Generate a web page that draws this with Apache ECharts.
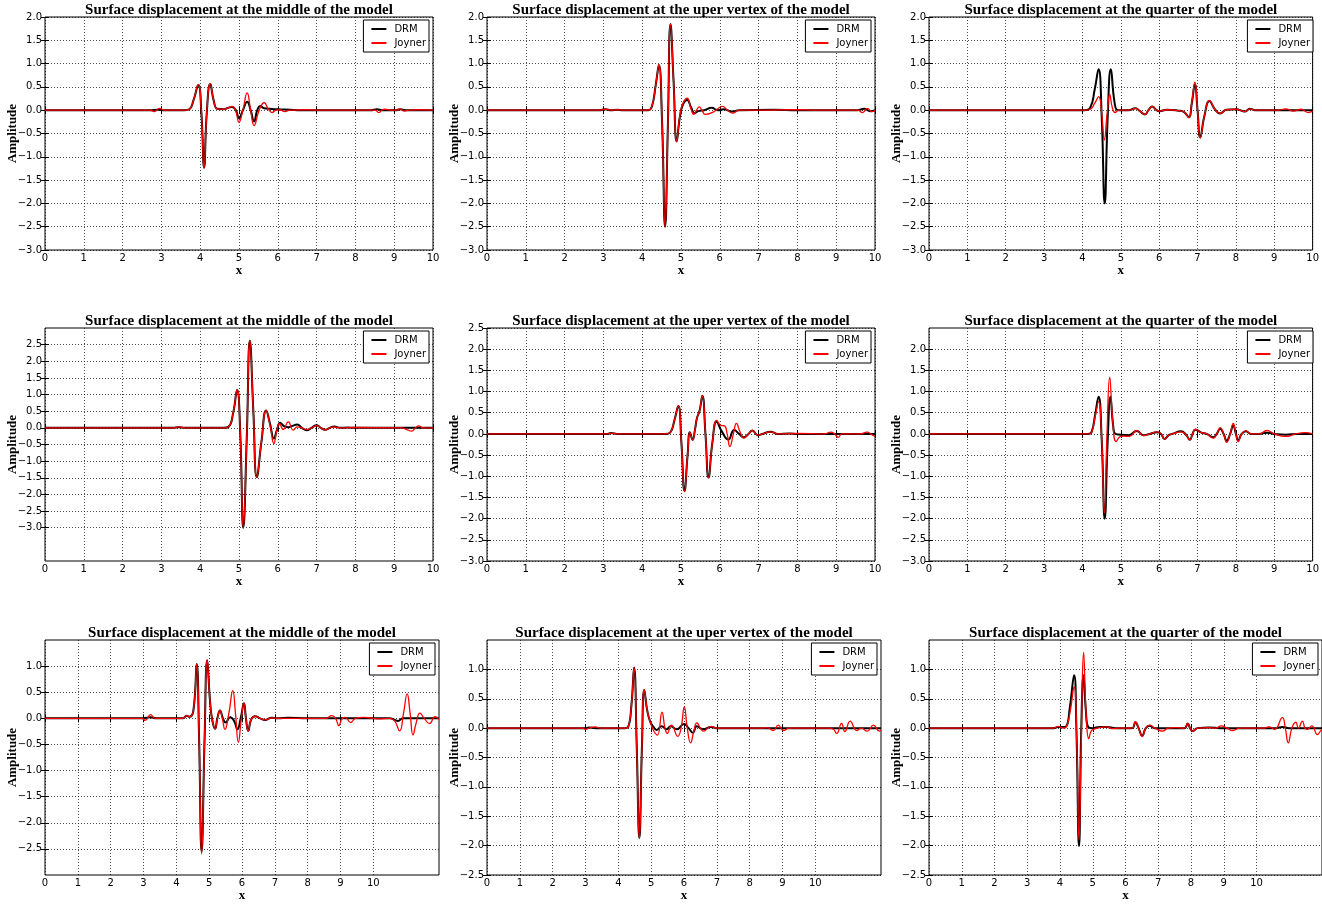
<!DOCTYPE html>
<html>
<head>
<meta charset="utf-8">
<script src="https://cdn.jsdelivr.net/npm/echarts@6/dist/echarts.min.js"></script>
<style>
html, body { margin: 0; padding: 0; background: #fff; }
#chart { width: 1322px; height: 904px; }
</style>
</head>
<body>
<div id="chart"></div>
<script>
// ---- Panel titles and tick values ----
const panelTitles = [
  'Surface displacement at the middle of the model',
  'Surface displacement at the uper vertex of the model',
  'Surface displacement at the quarter of the model'
];
const seriesNames = ['DRM', 'Joyner'];
const xTicks = [0, 1, 2, 3, 4, 5, 6, 7, 8, 9, 10];
const yTicksRow1 = [-3, -2.5, -2, -1.5, -1, -0.5, 0, 0.5, 1, 1.5, 2];
const yTicksRow2Left = [-3, -2.5, -2, -1.5, -1, -0.5, 0, 0.5, 1, 1.5, 2, 2.5];
const yTicksRow2Mid = [-3, -2.5, -2, -1.5, -1, -0.5, 0, 0.5, 1, 1.5, 2, 2.5];
const yTicksRow2Right = [-3, -2.5, -2, -1.5, -1, -0.5, 0, 0.5, 1, 1.5, 2];
const yTicksRow3 = [-2.5, -2, -1.5, -1, -0.5, 0, 0.5, 1];

// ---- Surface displacement records: [x, amplitude] ----
// Row 1
const row1MiddleDrm = [[0,0],[2.7,0],[2.9,0.01],[3.1,0],[3.6,0],[3.72,0.02],[3.83,0.22],[3.95,0.54],[4.03,-0.05],[4.10,-1.23],[4.17,-0.05],[4.26,0.56],[4.35,0.2],[4.44,0.03],[4.6,0.02],[4.72,0.05],[4.82,0.07],[4.92,0.0],[5.0,-0.17],[5.1,0.0],[5.21,0.18],[5.3,0.0],[5.39,-0.24],[5.47,0.0],[5.55,0.09],[5.65,0.04],[5.8,0.03],[6.0,0.02],[6.3,0.01],[6.6,0],[8.4,0],[8.55,0.02],[8.7,0],[9.05,0],[9.15,0.02],[9.3,0],[10,0]];
const row1MiddleJoyner = [[0,0],[2.7,0],[2.82,-0.03],[2.95,0.04],[3.07,0],[3.6,0],[3.72,0.02],[3.83,0.22],[3.95,0.55],[4.03,-0.05],[4.10,-1.25],[4.17,-0.05],[4.26,0.57],[4.35,0.2],[4.44,0.03],[4.6,0.02],[4.72,0.05],[4.82,0.08],[4.91,0.0],[5.0,-0.26],[5.1,0.0],[5.21,0.37],[5.3,0.0],[5.39,-0.33],[5.52,0.0],[5.65,0.16],[5.76,0.02],[5.85,-0.05],[5.95,0.0],[6.05,0.01],[6.18,-0.03],[6.32,0.0],[6.8,0.01],[7.0,0],[8.5,0],[8.6,-0.05],[8.68,0],[8.76,0.02],[8.9,0],[9.05,0],[9.15,0.03],[9.25,-0.02],[9.38,0],[9.7,0.01],[10,0]];
const row1VertexDrm = [[0,0],[2.9,0],[3.05,0.02],[3.2,0],[3.35,0.01],[3.5,0],[4.15,0],[4.25,0.08],[4.35,0.55],[4.43,0.97],[4.51,-0.2],[4.59,-2.5],[4.66,-0.4],[4.73,1.85],[4.81,0.6],[4.89,-0.67],[4.97,-0.15],[5.05,0.12],[5.16,0.22],[5.26,0.06],[5.35,-0.06],[5.45,-0.02],[5.6,0.0],[5.79,0.05],[5.95,0.0],[6.1,0.02],[6.31,-0.03],[6.5,0.0],[7.4,0.01],[8,0],[9.55,0],[9.72,0.03],[9.88,-0.02],[10,0]];
const row1VertexJoyner = [[0,0],[2.9,0],[3.05,0.02],[3.2,0],[3.35,0.01],[3.5,0],[4.15,0],[4.25,0.08],[4.35,0.55],[4.43,0.97],[4.51,-0.2],[4.59,-2.51],[4.66,-0.4],[4.73,1.85],[4.81,0.6],[4.89,-0.67],[4.97,-0.12],[5.05,0.15],[5.16,0.26],[5.25,0.05],[5.33,-0.09],[5.40,0],[5.47,0.07],[5.54,0.0],[5.62,-0.09],[5.83,-0.04],[6.07,0.08],[6.2,0.0],[6.33,-0.06],[6.5,0],[7.0,0],[8.0,0.01],[8.5,0],[9.55,0],[9.68,-0.05],[9.8,0.04],[9.92,-0.03],[10,0]];
const row1QuarterDrm = [[0,0],[4.05,0],[4.2,0.05],[4.32,0.45],[4.42,0.88],[4.5,-0.1],[4.58,-2.0],[4.66,-0.1],[4.74,0.88],[4.84,0.15],[4.93,0.0],[5.2,0.0],[5.38,0.04],[5.5,-0.02],[5.63,-0.09],[5.72,0.0],[5.82,0.08],[5.92,0.01],[6.0,-0.02],[6.2,0.01],[6.5,-0.01],[6.65,-0.04],[6.77,-0.15],[6.85,0.15],[6.93,0.55],[7.0,0.0],[7.07,-0.58],[7.18,-0.12],[7.31,0.2],[7.45,0.02],[7.59,-0.07],[7.75,0.01],[8.0,0.02],[8.24,-0.03],[8.36,0.03],[8.5,0.0],[10,0]];
const row1QuarterJoyner = [[0,0],[4.05,0],[4.2,0.02],[4.32,0.15],[4.42,0.29],[4.5,-0.05],[4.57,-0.64],[4.64,-0.1],[4.71,0.34],[4.78,0.05],[4.85,-0.05],[4.95,0.0],[5.2,0.0],[5.38,0.04],[5.5,-0.02],[5.63,-0.09],[5.72,0.0],[5.82,0.08],[5.92,0.01],[6.0,-0.02],[6.2,0.01],[6.5,-0.01],[6.65,-0.04],[6.77,-0.16],[6.85,0.17],[6.93,0.60],[7.0,0.0],[7.07,-0.60],[7.18,-0.12],[7.31,0.21],[7.45,0.02],[7.59,-0.07],[7.75,0.01],[8.0,0.02],[8.24,-0.03],[8.36,0.03],[8.5,0.0],[9.1,0.0],[9.3,0.03],[9.5,-0.02],[9.7,0.02],[9.88,-0.05],[10,-0.02]];

// Row 2
const row2MiddleDrm = [[0,0],[3.3,0],[3.45,0.02],[3.6,0],[4.6,0],[4.73,0.03],[4.85,0.45],[4.95,1.14],[5.03,-0.1],[5.11,-3.0],[5.2,-0.3],[5.28,2.62],[5.37,0.5],[5.46,-1.48],[5.58,-0.4],[5.70,0.52],[5.80,0.12],[5.90,-0.32],[5.98,-0.05],[6.06,0.15],[6.16,0.05],[6.26,0.02],[6.38,0.06],[6.5,0.10],[6.62,0.0],[6.74,-0.07],[6.87,0.0],[7.0,0.08],[7.11,0.0],[7.22,-0.06],[7.34,0.0],[7.46,0.04],[7.6,0],[7.8,0.01],[8,0],[10,0]];
const row2MiddleJoyner = [[0,0],[3.3,0],[3.45,0.03],[3.6,0],[4.6,0],[4.73,0.03],[4.85,0.45],[4.95,1.15],[5.03,-0.1],[5.11,-3.0],[5.2,-0.3],[5.28,2.63],[5.37,0.5],[5.46,-1.48],[5.58,-0.4],[5.70,0.52],[5.80,0.08],[5.90,-0.47],[5.97,-0.1],[6.04,0.13],[6.14,-0.05],[6.27,0.18],[6.40,-0.07],[6.5,0.03],[6.62,0.0],[6.74,-0.05],[6.87,0.0],[7.0,0.07],[7.11,0.0],[7.22,-0.06],[7.34,0.0],[7.46,0.03],[7.6,0],[8,0.01],[9.2,0],[9.3,-0.04],[9.45,-0.1],[9.55,0.0],[9.63,0.06],[9.75,0],[10,0]];
const row2VertexDrm = [[0,0],[3.1,0],[3.2,0.02],[3.35,0],[4.6,0],[4.72,0.03],[4.83,0.32],[4.93,0.66],[5.01,-0.2],[5.09,-1.35],[5.17,-0.5],[5.23,0.04],[5.30,-0.14],[5.36,0.1],[5.41,0.37],[5.48,0.55],[5.55,0.90],[5.63,0.0],[5.71,-1.03],[5.81,-0.2],[5.92,0.29],[6.05,0.06],[6.22,-0.13],[6.37,0.09],[6.5,0.0],[6.62,-0.08],[6.74,0.0],[6.84,0.08],[6.98,-0.03],[7.1,0.0],[7.31,0.05],[7.5,0],[7.8,0.01],[8,0],[10,0]];
const row2VertexJoyner = [[0,0],[3.1,0],[3.2,0.02],[3.35,0],[4.6,0],[4.72,0.03],[4.83,0.32],[4.93,0.66],[5.01,-0.2],[5.09,-1.36],[5.17,-0.5],[5.23,0.04],[5.30,-0.14],[5.36,0.1],[5.41,0.37],[5.48,0.55],[5.55,0.90],[5.63,0.0],[5.71,-1.03],[5.81,-0.2],[5.92,0.32],[6.03,0.2],[6.12,0.19],[6.19,0.0],[6.26,-0.30],[6.35,0.0],[6.43,0.25],[6.52,0.05],[6.62,-0.10],[6.74,0.0],[6.84,0.08],[6.98,-0.03],[7.1,0.0],[7.31,0.05],[7.5,0],[8.0,0.01],[8.7,0],[8.86,0.04],[8.96,0],[9.05,-0.08],[9.15,0],[9.6,0],[9.8,0.04],[9.92,-0.02],[10,-0.06]];
const row2QuarterDrm = [[0,0],[4.15,0],[4.24,0.05],[4.33,0.45],[4.42,0.88],[4.5,-0.1],[4.58,-2.0],[4.66,-0.1],[4.73,0.88],[4.8,0.2],[4.86,0.0],[5.0,-0.02],[5.2,-0.03],[5.42,0.07],[5.59,-0.03],[5.75,0.0],[5.95,0.04],[6.05,0.0],[6.14,-0.12],[6.25,-0.03],[6.34,0.0],[6.57,0.06],[6.7,-0.02],[6.80,-0.14],[6.87,0.0],[6.94,0.1],[7.1,0.03],[7.24,0.0],[7.41,-0.08],[7.5,0.0],[7.59,0.12],[7.68,0.0],[7.76,-0.16],[7.85,0.0],[7.93,0.2],[8.0,0.0],[8.06,-0.15],[8.15,0.0],[8.26,0.06],[8.4,0.0],[8.6,0.0],[8.81,0.03],[9.0,0],[9.3,-0.02],[9.6,0.0],[10,0]];
const row2QuarterJoyner = [[0,0],[4.15,0],[4.24,0.04],[4.33,0.4],[4.42,0.76],[4.5,-0.1],[4.57,-1.87],[4.64,0.0],[4.71,1.34],[4.79,0.3],[4.88,-0.18],[4.99,-0.06],[5.1,-0.05],[5.22,-0.06],[5.42,0.08],[5.59,-0.04],[5.75,0.0],[5.95,0.05],[6.05,0.0],[6.14,-0.12],[6.25,-0.03],[6.34,0.0],[6.57,0.05],[6.7,-0.02],[6.80,-0.14],[6.87,0.0],[6.94,0.11],[7.1,0.03],[7.24,0.0],[7.41,-0.10],[7.5,0.0],[7.59,0.15],[7.68,0.0],[7.76,-0.20],[7.85,0.0],[7.93,0.25],[8.0,0.0],[8.06,-0.18],[8.15,0.0],[8.26,0.07],[8.4,0.0],[8.6,0.0],[8.81,0.08],[9.0,0],[9.30,-0.06],[9.56,0.0],[9.8,0.03],[10,0]];

// Row 3
const row3MiddleDrm = [[0,0],[3.0,0],[3.2,0.02],[3.4,0],[4.2,0],[4.31,0.05],[4.4,0.03],[4.52,0.15],[4.62,1.04],[4.69,-0.3],[4.77,-2.55],[4.86,-0.4],[4.94,1.11],[5.03,0.3],[5.10,-0.05],[5.18,-0.2],[5.25,0.0],[5.33,0.15],[5.42,0.0],[5.5,-0.08],[5.64,0.02],[5.76,-0.05],[5.86,-0.21],[5.96,0.0],[6.06,0.29],[6.12,0.0],[6.19,-0.24],[6.28,-0.02],[6.40,0.04],[6.55,0.0],[6.70,-0.03],[6.90,0.01],[7.1,0],[7.4,0.01],[8,0],[10.5,0],[10.75,-0.05],[10.9,0],[12,0]];
const row3MiddleJoyner = [[0,0],[2.95,0],[3.05,-0.04],[3.22,0.07],[3.35,0],[4.2,0],[4.31,0.05],[4.4,0.03],[4.52,0.15],[4.62,1.04],[4.69,-0.3],[4.77,-2.6],[4.86,-0.4],[4.94,1.12],[5.03,0.3],[5.10,-0.05],[5.18,-0.2],[5.25,0.0],[5.33,0.15],[5.40,0.0],[5.48,-0.21],[5.60,0.1],[5.72,0.53],[5.80,0.1],[5.89,-0.46],[5.98,0.0],[6.06,0.29],[6.12,0.0],[6.19,-0.24],[6.28,-0.02],[6.40,0.04],[6.55,0.0],[6.70,-0.03],[6.90,0.01],[7.1,0],[8.55,0],[8.73,0.05],[8.85,0],[8.95,-0.14],[9.05,0],[9.14,0.02],[9.31,-0.08],[9.45,0],[9.7,0.02],[10.0,0],[10.15,-0.01],[10.5,0],[10.65,-0.05],[10.80,-0.24],[10.92,0.1],[11.03,0.47],[11.12,0.1],[11.21,-0.32],[11.3,-0.1],[11.42,0.10],[11.55,0],[11.71,-0.10],[11.88,0.03],[12,-0.02]];
const row3VertexDrm = [[0,0],[3.0,0],[3.1,0.01],[3.3,0],[4.2,0],[4.30,0.02],[4.40,0.4],[4.48,1.03],[4.56,-0.3],[4.64,-1.87],[4.72,-0.3],[4.79,0.65],[4.88,0.3],[4.97,0.11],[5.07,0.02],[5.17,-0.03],[5.32,0.03],[5.47,-0.02],[5.59,0.03],[5.78,-0.02],[6.0,0.07],[6.14,0],[6.27,-0.08],[6.39,0.03],[6.59,-0.02],[6.82,0.02],[7.0,0],[12,0]];
const row3VertexJoyner = [[0,0],[2.9,0],[3.0,-0.02],[3.15,0.01],[3.3,0.02],[3.45,0],[4.2,0],[4.30,0.02],[4.40,0.4],[4.48,1.03],[4.56,-0.3],[4.64,-1.88],[4.72,-0.3],[4.79,0.65],[4.88,0.3],[4.97,0.11],[5.08,-0.05],[5.19,-0.12],[5.33,0.27],[5.42,0.0],[5.49,-0.09],[5.62,0.05],[5.81,-0.14],[5.91,0.0],[6.01,0.36],[6.1,0.0],[6.20,-0.25],[6.30,-0.05],[6.39,0.09],[6.5,0],[6.59,-0.05],[6.82,0.03],[7.0,0],[8.4,0],[8.52,0.01],[8.72,-0.04],[8.87,0.05],[9.03,-0.04],[9.2,0],[10.4,0],[10.55,-0.02],[10.65,-0.09],[10.8,0.08],[10.9,-0.06],[11.06,0.12],[11.26,-0.04],[11.4,0.0],[11.58,-0.05],[11.77,0.05],[11.95,-0.05],[12,-0.03]];
const row3QuarterDrm = [[0,0],[3.8,0],[3.95,0.02],[4.1,0.02],[4.19,0.03],[4.3,0.35],[4.43,0.90],[4.5,0.0],[4.58,-2.01],[4.65,0.0],[4.72,0.90],[4.79,0.3],[4.86,0.02],[5.0,0.0],[5.2,0.02],[5.43,0.02],[5.7,0],[6.2,0.0],[6.30,0.10],[6.4,0.0],[6.51,-0.13],[6.62,0.0],[6.73,0.04],[6.9,0.0],[7.8,0.0],[7.90,0.08],[7.97,0.0],[8.05,-0.05],[8.2,0],[8.56,0.01],[8.9,0.0],[10.6,0],[10.79,0.02],[11,0],[12,0]];
const row3QuarterJoyner = [[0,0],[3.8,0],[3.95,0.03],[4.1,0.0],[4.19,0.02],[4.3,0.25],[4.43,0.70],[4.51,-0.2],[4.58,-1.9],[4.65,-0.2],[4.72,1.29],[4.8,0.2],[4.88,-0.18],[4.95,-0.05],[5.03,-0.02],[5.2,0.01],[5.43,0.02],[5.6,-0.01],[5.8,0.0],[6.2,0.0],[6.30,0.11],[6.4,0.0],[6.51,-0.14],[6.62,0.0],[6.73,0.05],[6.9,0.0],[7.13,-0.05],[7.3,0.0],[7.5,0.01],[7.8,0.0],[7.90,0.08],[7.97,0.0],[8.05,-0.05],[8.2,0],[8.56,0.01],[8.75,0.0],[8.92,0.04],[9.1,0],[9.27,-0.04],[9.5,0],[10.2,0],[10.38,0.02],[10.55,-0.02],[10.79,0.18],[10.88,0],[10.97,-0.25],[11.08,0.0],[11.2,0.10],[11.28,0.0],[11.40,0.12],[11.48,0.0],[11.55,-0.02],[11.69,0.04],[11.86,-0.11],[11.95,-0.05],[12,-0.02]];

// ---- Panel layout (pixel boxes of the nine plot areas) ----
const CHART_W = 1322;
const panels = [
  { left: 45,  top: 17,  width: 388, height: 233, title: panelTitles[0], drm: row1MiddleDrm,  joy: row1MiddleJoyner,  xMax: 10, yMin: -3, yMax: 2,   yTicks: yTicksRow1 },
  { left: 487, top: 17,  width: 388, height: 233, title: panelTitles[1], drm: row1VertexDrm,  joy: row1VertexJoyner,  xMax: 10, yMin: -3, yMax: 2,   yTicks: yTicksRow1 },
  { left: 929, top: 17,  width: 388, height: 233, title: panelTitles[2], drm: row1QuarterDrm, joy: row1QuarterJoyner, xMax: 10, yMin: -3, yMax: 2,   yTicks: yTicksRow1 },
  { left: 45,  top: 328, width: 388, height: 233, title: panelTitles[0], drm: row2MiddleDrm,  joy: row2MiddleJoyner,  xMax: 10, yMin: -4, yMax: 3,   yTicks: yTicksRow2Left },
  { left: 487, top: 328, width: 388, height: 233, title: panelTitles[1], drm: row2VertexDrm,  joy: row2VertexJoyner,  xMax: 10, yMin: -3, yMax: 2.5, yTicks: yTicksRow2Mid },
  { left: 929, top: 328, width: 388, height: 233, title: panelTitles[2], drm: row2QuarterDrm, joy: row2QuarterJoyner, xMax: 10, yMin: -3, yMax: 2.5, yTicks: yTicksRow2Right },
  { left: 45,  top: 640, width: 394, height: 235, title: panelTitles[0], drm: row3MiddleDrm,  joy: row3MiddleJoyner,  xMax: 12, yMin: -3, yMax: 1.5, yTicks: yTicksRow3 },
  { left: 487, top: 640, width: 394, height: 235, title: panelTitles[1], drm: row3VertexDrm,  joy: row3VertexJoyner,  xMax: 12, yMin: -2.5, yMax: 1.5, yTicks: yTicksRow3 },
  { left: 929, top: 640, width: 393, height: 235, title: panelTitles[2], drm: row3QuarterDrm, joy: row3QuarterJoyner, xMax: 12, yMin: -2.5, yMax: 1.5, yTicks: yTicksRow3 }
];

// ---- Styles ----
const tickFont = { fontFamily: 'DejaVu Sans', fontSize: 10, color: '#000' };
const axisNameFont = { fontFamily: 'Liberation Serif', fontWeight: 'bold', fontSize: 13, color: '#000' };
const titleFont = { fontFamily: 'Liberation Serif', fontWeight: 'bold', fontSize: 15, color: '#000' };
const gridLine = { show: true, lineStyle: { color: '#000', width: 0.7, type: [1, 2] } };
const tick = (values) => ({ show: true, inside: true, length: 4, customValues: values, lineStyle: { color: '#000', width: 1 } });
const fmtY = v => (v < 0 ? '\u2212' : '') + Math.abs(v).toFixed(1);
const fmtX = v => String(Math.round(v));

const option = { animation: false, backgroundColor: '#fff', grid: [], xAxis: [], yAxis: [], series: [], legend: [] };

panels.forEach((p, i) => {
  option.grid.push({
    left: p.left, top: p.top, width: p.width, height: p.height,
    show: true, borderColor: '#000', borderWidth: 1, backgroundColor: 'transparent'
  });
  // bottom x axis (drawn, with label "x")
  option.xAxis.push({
    gridIndex: i, type: 'value', position: 'bottom', min: 0, max: p.xMax, interval: 1,
    name: 'x', nameLocation: 'middle', nameGap: 13, nameTextStyle: axisNameFont,
    axisLine: { show: false }, axisTick: tick(xTicks),
    axisLabel: { customValues: xTicks, formatter: fmtX, margin: 3, ...tickFont },
    splitLine: gridLine
  });
  // top x axis: ticks only, carries the panel title
  option.xAxis.push({
    gridIndex: i, type: 'value', position: 'top', min: 0, max: p.xMax, interval: 1,
    name: p.title, nameLocation: 'middle', nameGap: -1, nameTextStyle: titleFont,
    axisLine: { show: false }, axisTick: tick(xTicks),
    axisLabel: { show: false }, splitLine: { show: false }
  });
  option.yAxis.push({
    gridIndex: i, type: 'value', position: 'left', min: p.yMin, max: p.yMax, interval: 0.5,
    name: 'Amplitude', nameLocation: 'middle', nameRotate: 90, nameGap: 26, nameMoveOverlap: false,
    nameTextStyle: axisNameFont,
    axisLine: { show: false }, axisTick: tick(p.yTicks),
    axisLabel: { customValues: p.yTicks, formatter: fmtY, margin: 3, ...tickFont },
    splitLine: gridLine
  });
  option.yAxis.push({
    gridIndex: i, type: 'value', position: 'right', min: p.yMin, max: p.yMax, interval: 0.5,
    axisLine: { show: false }, axisTick: tick(p.yTicks),
    axisLabel: { show: false }, splitLine: { show: false }
  });
  option.series.push({
    type: 'line', name: seriesNames[0], xAxisIndex: 2 * i, yAxisIndex: 2 * i, data: p.drm,
    symbol: 'none', smooth: 0.5, silent: true, z: 3,
    lineStyle: { color: '#000', width: 2 }, itemStyle: { color: '#000' }
  });
  option.series.push({
    type: 'line', name: seriesNames[1], xAxisIndex: 2 * i, yAxisIndex: 2 * i, data: p.joy,
    symbol: 'none', smooth: 0.5, silent: true, z: 4,
    lineStyle: { color: '#ff0000', width: 1.3 }, itemStyle: { color: '#ff0000' }
  });
  // legend keys are plain line samples (marker hidden)
  option.legend.push({
    data: seriesNames, orient: 'vertical', selectedMode: false,
    right: CHART_W - (p.left + p.width) + 4, top: p.top + 3,
    padding: [4, 3, 4, 7], itemGap: 4, itemWidth: 15, itemHeight: 10,
    borderColor: '#000', borderWidth: 1, borderRadius: 0, backgroundColor: '#fff',
    itemStyle: { color: 'rgba(0,0,0,0)', borderColor: 'rgba(0,0,0,0)', borderWidth: 0, opacity: 0 },
    textStyle: { fontFamily: 'DejaVu Sans', fontSize: 10, color: '#000', padding: [0, 0, 0, 3] }
  });
});

const chart = echarts.init(document.getElementById('chart'), null, { renderer: 'canvas', width: 1322, height: 904 });
chart.setOption(option);
</script>
</body>
</html>
